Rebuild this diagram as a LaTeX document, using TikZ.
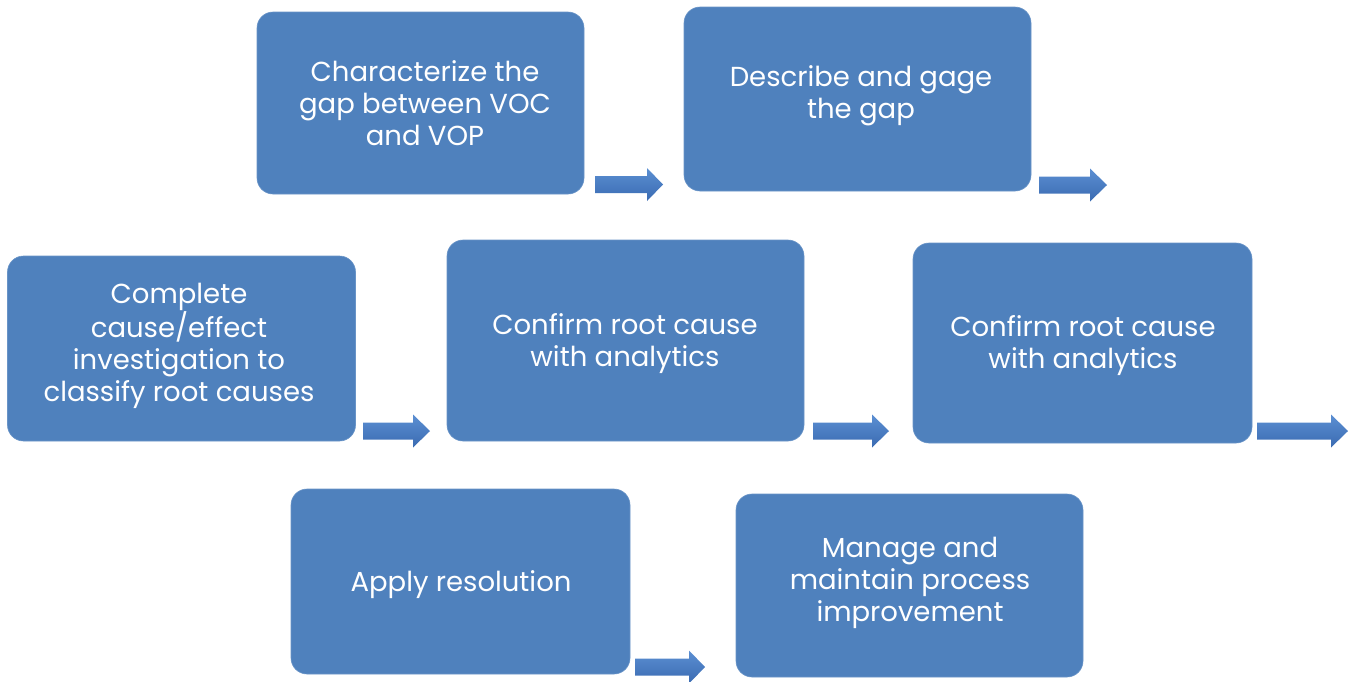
\documentclass[tikz,border=0pt]{standalone}
\usepackage{fontspec}
\setmainfont{Poppins}
\definecolor{boxblue}{HTML}{4F81BD}
\definecolor{arrtop}{HTML}{5B8FD2}
\definecolor{arrbot}{HTML}{3A6BB2}
\newcommand{\blockarrow}[4]{%
  \shade[top color=arrtop, bottom color=arrbot]
    (#1,#4-8.5) -- (#2,#4-8.5) -- (#2,#4-16.5) -- (#3,#4) -- (#2,#4+16.5)
    -- (#2,#4+8.5) -- (#1,#4+8.5) -- cycle;}
\begin{document}
\begin{tikzpicture}[x=1pt,y=-1pt,
  stepbox/.style={fill=boxblue, draw=boxblue!85!white, line width=0.6pt,
    rounded corners=16pt, inner sep=0pt},
  steptext/.style={text=white, align=center,
    font=\fontsize{27.5}{32}\selectfont, inner sep=0pt}]
\useasboundingbox (0,0) rectangle (1351,681);
% boxes
\node[stepbox, minimum width=327, minimum height=182] (b1) at (420.5,103) {};
\node[stepbox, minimum width=347, minimum height=184] (b2) at (857.5,99) {};
\node[stepbox, minimum width=348, minimum height=185] (b3) at (181.5,348.5) {};
\node[stepbox, minimum width=357, minimum height=201] (b4) at (625.5,340.5) {};
\node[stepbox, minimum width=339, minimum height=200] (b5) at (1082.5,343) {};
\node[stepbox, minimum width=339, minimum height=185] (b6) at (460.5,581.5) {};
\node[stepbox, minimum width=347, minimum height=183] (b7) at (909.5,585.5) {};
% texts
\node[steptext] (t1) at (425,103.5) {Characterize the\\gap between VOC\\and VOP};
\node[steptext] (t2) at (861,96) {Describe and gage\\the gap};
\node[steptext] (t3) at (179,346) {Complete\\cause/effect\\investigation to\\classify root causes};
\node[steptext] (t4) at (625,343.5) {Confirm root cause\\with analytics};
\node[steptext] (t5) at (1083,346) {Confirm root cause\\with analytics};
\node[steptext] (t6) at (461,584.5) {Apply resolution};
\node[steptext] (t7) at (910,583) {Manage and\\maintain process\\improvement};
% block arrows: shaft start, shaft end, tip, centre y
\blockarrow{595}{647}{663}{184.5}
\blockarrow{1039}{1090}{1107}{185}
\blockarrow{363}{413}{430}{431}
\blockarrow{813}{872}{889}{431}
\blockarrow{1257}{1331}{1348}{431}
\blockarrow{635}{689}{705}{667}
\end{tikzpicture}
\end{document}
